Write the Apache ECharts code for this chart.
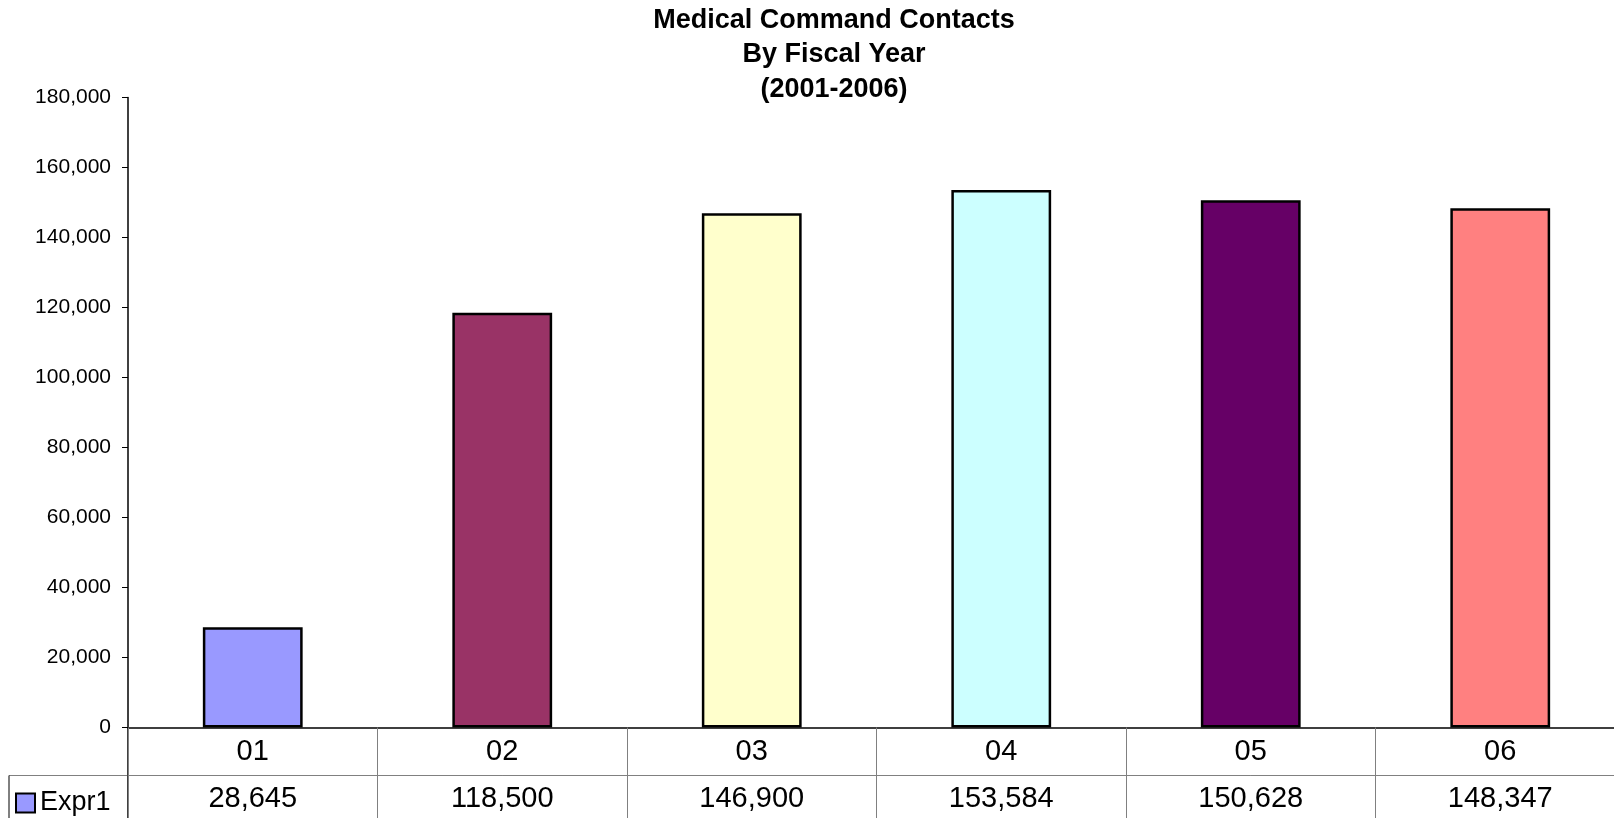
<!DOCTYPE html>
<html>
<head>
<meta charset="utf-8">
<title>Medical Command Contacts By Fiscal Year</title>
<script src="https://cdn.jsdelivr.net/npm/echarts@6/dist/echarts.min.js"></script>
<style>
  html, body { margin: 0; padding: 0; background: #ffffff; overflow: hidden; }
  /* the chart is a little wider than the page: the last table column runs off the right edge */
  #chart { width: 1640px; height: 818px; }
</style>
</head>
<body>
<div id="chart"></div>
<script>
// Fiscal years (two-digit labels) and the yearly contact counts
const categories = ['01', '02', '03', '04', '05', '06'];
const contacts = [28645, 118500, 146900, 153584, 150628, 148347];
const barColors = ['#9999FF', '#993366', '#FFFFCC', '#CCFFFF', '#660066', '#FF8080'];
const seriesName = 'Expr1';
const yMax = 180000;
const yStep = 20000;

const FONT = "'Liberation Sans', Arial, Helvetica, sans-serif";
const fmt = v => v.toLocaleString('en-US');

// plot area layout (pixels)
const GRID_LEFT = 128, GRID_TOP = 97.5, GRID_BOTTOM = 90.5, GRID_RIGHT = 15;
const ROW_H = 48;           // height of one data-table row
const H = 818;
const axisY = H - GRID_BOTTOM;
const LEGEND_CELL_LEFT = 9;
const TABLE_FONT = 29;

const chart = echarts.init(document.getElementById('chart'), null, { renderer: 'canvas' });

chart.setOption({
  backgroundColor: '#ffffff',
  animation: false,
  textStyle: { fontFamily: FONT },
  title: {
    text: 'Medical Command Contacts\nBy Fiscal Year\n(2001-2006)',
    left: 834,
    top: 3,
    padding: 0,
    textAlign: 'center',
    textStyle: {
      fontFamily: FONT,
      fontSize: 27,
      fontWeight: 'bold',
      color: '#000000',
      lineHeight: 34.5
    }
  },
  legend: {
    left: 10,
    top: axisY + ROW_H + 9,
    itemWidth: 19,
    itemHeight: 19,
    itemGap: 0,
    icon: 'rect',
    selectedMode: false,
    textStyle: { fontFamily: FONT, fontSize: 27, color: '#000000', padding: [0, 0, 0, 0] },
    data: [{
      name: seriesName,
      itemStyle: { color: barColors[0], borderColor: '#000000', borderWidth: 2 }
    }]
  },
  grid: {
    left: GRID_LEFT,
    right: GRID_RIGHT,
    top: GRID_TOP,
    bottom: GRID_BOTTOM,
    containLabel: false
  },
  xAxis: [
    {
      // category row of the data table
      type: 'category',
      data: categories,
      position: 'bottom',
      boundaryGap: true,
      axisLine: { show: true, lineStyle: { color: '#000000', width: 1.5 } },
      axisTick: {
        show: true,
        inside: false,
        length: ROW_H * 2 + 4,
        lineStyle: { color: '#808080', width: 1 }
      },
      axisLabel: {
        show: true,
        fontFamily: FONT,
        fontSize: TABLE_FONT,
        color: '#000000',
        verticalAlign: 'middle',
        margin: ROW_H / 2
      },
      splitLine: { show: false }
    },
    {
      // value row of the data table
      type: 'category',
      data: contacts.map(fmt),
      position: 'bottom',
      offset: ROW_H,
      boundaryGap: true,
      axisLine: { show: true, lineStyle: { color: '#808080', width: 1 } },
      axisTick: { show: false },
      axisLabel: {
        show: true,
        fontFamily: FONT,
        fontSize: TABLE_FONT,
        color: '#000000',
        verticalAlign: 'middle',
        margin: ROW_H / 2 - 1
      },
      splitLine: { show: false }
    }
  ],
  yAxis: {
    type: 'value',
    min: 0,
    max: yMax,
    interval: yStep,
    axisLine: { show: true, lineStyle: { color: '#000000', width: 1.5 } },
    axisTick: { show: true, inside: false, length: 6, lineStyle: { color: '#000000', width: 1 } },
    axisLabel: {
      fontFamily: FONT,
      fontSize: 21,
      color: '#000000',
      margin: 17,
      formatter: v => fmt(v)
    },
    splitLine: { show: false }
  },
  series: [{
    name: seriesName,
    type: 'bar',
    xAxisIndex: 0,
    barWidth: '40%',
    data: contacts.map((v, i) => ({
      value: v,
      itemStyle: { color: barColors[i] }
    })),
    itemStyle: { color: barColors[0], borderColor: '#000000', borderWidth: 2.5 }
  }],
  graphic: [
    // legend cell borders and the y-axis running down through the table
    {
      type: 'line',
      shape: { x1: LEGEND_CELL_LEFT, y1: axisY + ROW_H, x2: GRID_LEFT, y2: axisY + ROW_H },
      style: { stroke: '#808080', lineWidth: 1 }
    },
    {
      type: 'line',
      shape: { x1: LEGEND_CELL_LEFT, y1: axisY + ROW_H, x2: LEGEND_CELL_LEFT, y2: H + 2 },
      style: { stroke: '#000000', lineWidth: 1 }
    },
    {
      type: 'line',
      shape: { x1: GRID_LEFT, y1: axisY, x2: GRID_LEFT, y2: H + 2 },
      style: { stroke: '#000000', lineWidth: 1.5 }
    }
  ]
});
</script>
</body>
</html>
